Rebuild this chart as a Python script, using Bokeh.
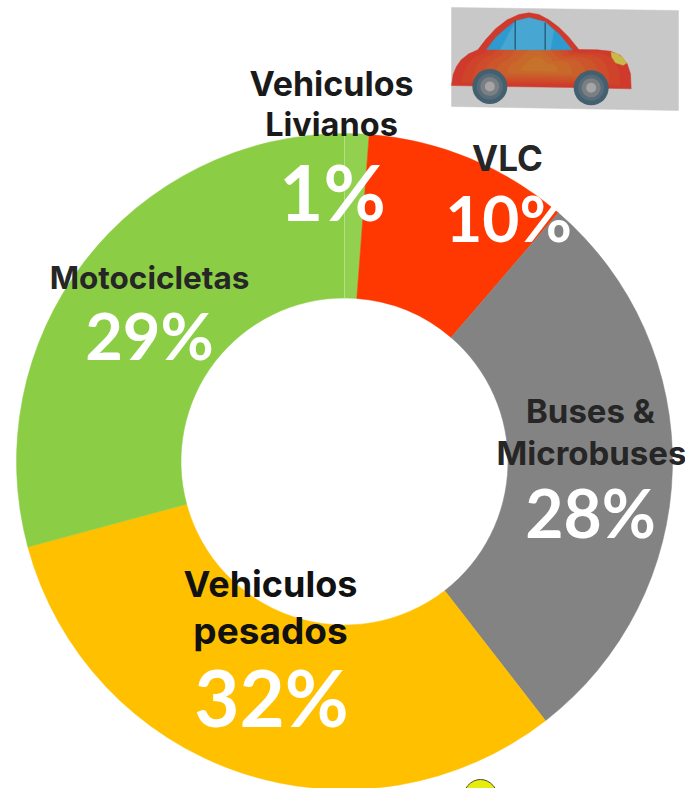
import numpy as np
from bokeh.plotting import figure
from bokeh.models import ColumnDataSource
from bokeh.core.properties import value
from bokeh.embed import file_html
from bokeh.resources import INLINE

W, H = 685, 788
categories = ["Vehiculos Livianos", "VLC", "Buses & Microbuses", "Vehiculos pesados", "Motocicletas"]
shares = [1.2, 10.1, 28.2, 31.3, 29.2]
pct_labels = ["1%", "10%", "28%", "32%", "29%"]
colors = ["#92D050", "#FF3700", "#838383", "#FFC000", "#8BCE45"]

name_lines = ["Vehiculos", "Livianos", "VLC", "Buses &", "Microbuses", "Vehiculos", "pesados", "Motocicletas"]
name_x = [331, 331, 507, 590, 591, 270, 270, 149]
name_y = [83, 124, 157, 410, 452, 583, 630, 277]
name_size = [34, 32.5, 35, 33, 33, 36, 37, 31.5]
name_color = ["#1a1a1a", "#1a1a1a", "#262626", "#262626", "#262626", "#111111", "#111111", "#262626"]

pct_x = [332, 508, 590, 271, 149]
pct_y = [191, 217, 512, 696, 334]
pct_size = [76, 64, 66, 78, 65]

p = figure(width=W, height=H, output_backend="svg", toolbar_location=None,
           x_range=(0, W), y_range=(0, H), min_border=0, outline_line_color=None,
           margin=(0, 0, 0, 0))
p.axis.visible = False
p.grid.visible = False
p.background_fill_color = "white"
p.border_fill_color = "white"

def Y(v):
    return H - np.asarray(v, dtype=float)

# ring
cx, cy, r_out, r_in = 344, 461, 328, 163.5
frac = np.cumsum([0] + shares) / sum(shares)
src = ColumnDataSource(dict(
    start=[np.pi / 2 - a * 2 * np.pi for a in frac[:-1]],
    end=[np.pi / 2 - a * 2 * np.pi for a in frac[1:]],
    color=colors, name=categories))
p.annular_wedge(x=cx, y=H - cy, inner_radius=r_in, outer_radius=r_out,
                start_angle="start", end_angle="end", direction="clock",
                fill_color="color", line_color="color", line_width=0.5, source=src)
p.segment(x0=[cx], y0=[H - 298], x1=[cx], y1=[H - 133], line_color="#B5DF88", line_width=1)

# car picture
def poly(xs, ys, color, **kw):
    p.patch(xs, list(Y(ys)), fill_color=color, line_color=kw.get("line", color),
            line_width=kw.get("lw", 0.5))

zx = lambda a: [440 + v / 3 for v in a]
zy = lambda a: [v / 3 for v in a]
poly([451, 678, 678, 451], [7, 10, 110, 106], "#C8C8C8")
bx = np.array([33, 38, 48, 62, 85, 112, 135, 165, 200, 235, 265, 295, 325, 355, 385, 415, 470, 510, 540, 560, 570, 572, 400, 200, 33], float)
by = np.array([255, 222, 198, 178, 160, 148, 118, 85, 58, 42, 37, 42, 58, 80, 110, 147, 148, 152, 165, 190, 220, 265, 261, 258, 255], float)
zcx, zcy = 295, 200
for s, c in zip([1.0, .88, .76, .64, .5, .36, .2],
                ["#CF3A2C", "#D0432B", "#CE4C2B", "#CC552B", "#CA5F2B", "#C8682A", "#C6722A"]):
    poly(zx(zcx + (bx - zcx) * s), zy(zcy + (by - zcy) * (s if s == 1 else s * .95)), c)
poly(zx([138, 165, 195, 225, 265, 315, 355, 395]), zy([147, 112, 85, 62, 52, 65, 100, 148]), "#2E9BD0")
poly(zx([180, 225, 265, 315, 340, 330, 200]), zy([147, 62, 52, 65, 90, 148, 147]), "#47A6D2")
p.multi_line([zx([224, 224]), zx([314, 314])], [list(Y(zy([60, 147]))), list(Y(zy([66, 148])))],
             line_color="#1E4F6E", line_width=1.2)
poly(zx([512, 530, 548, 558, 548, 525, 514]), zy([155, 160, 172, 188, 194, 187, 170]), "#C9B948")
for wx, wy in [(148, 258), (452, 262)]:
    for rad, c in [(17.5, "#44606F"), (13, "#566C7A"), (9.5, "#7C7F82"), (5, "#A5A5A5")]:
        p.scatter([440 + wx / 3], [H - wy / 3], size=2 * rad, marker="circle", fill_color=c, line_color=None)

# yellow shape at the lower edge
p.ellipse([480], [H - 800], width=[36], height=[42], fill_color="#E6EE10", line_color="#4A4A2A", line_width=1)

# labels
p.text(x=name_x, y=list(Y(name_y)), text=name_lines, text_font=value("Inter"),
       text_font_style="bold", text_font_size=[f"{s}px" for s in name_size],
       text_color=name_color, text_align="center", text_baseline="middle")
p.text(x=pct_x, y=list(Y(pct_y)), text=pct_labels, text_font=value("Lato"),
       text_font_style="bold", text_font_size=[f"{s}px" for s in pct_size],
       text_color="white", text_align="center", text_baseline="middle")

open("out.html", "w").write(file_html(p, INLINE))
